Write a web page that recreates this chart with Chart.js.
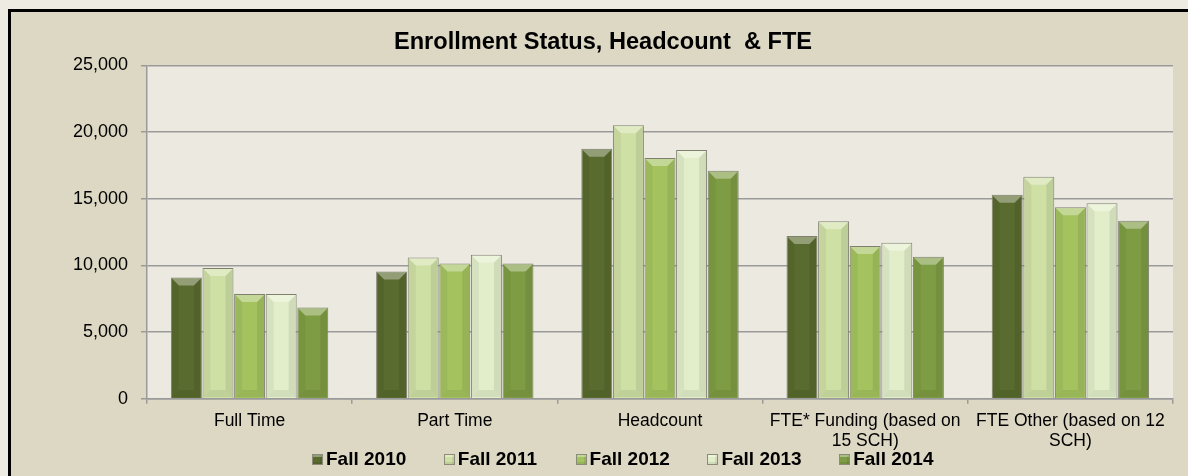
<!DOCTYPE html>
<html>
<head>
<meta charset="utf-8">
<script src="https://cdn.jsdelivr.net/npm/chart.js@4"></script>
<style>
  html, body { margin: 0; padding: 0; background: #EEECE2; overflow: hidden; width: 1188px; height: 476px; }
  #frame { position: absolute; left: 8px; top: 9px; width: 1200px; height: 500px; border: 3px solid #000; background: #DDD8C4; box-sizing: border-box; }
  #wrap { position: absolute; left: 11px; top: 12px; width: 1184px; height: 464px; }
  #legend { position: absolute; left: 312px; top: 448px; height: 22px; display: flex; font-family: "Liberation Sans", Arial, sans-serif; font-weight: bold; font-size: 19px; line-height: 22px; color: #000; }
  .item { width: 131.8px; display: flex; align-items: center; white-space: nowrap; }
  .sw { width: 11px; height: 11px; margin-right: 3px; box-sizing: border-box; border: 1px solid #8A8B78; box-shadow: inset 0 2px 0 rgba(255,255,255,0.35), inset -2px 0 0 rgba(0,0,0,0.08), inset 0 -2px 0 rgba(0,0,0,0.08); }
</style>
</head>
<body>
<div id="frame"></div>
<div id="wrap"><canvas id="c"></canvas></div>
<div id="legend"></div>
<script>
const categories = ["Full Time", "Part Time", "Headcount", ["FTE* Funding (based on", "15 SCH)"], ["FTE Other (based on 12", "SCH)"]];
const seriesNames = ["Fall 2010", "Fall 2011", "Fall 2012", "Fall 2013", "Fall 2014"];
const fall2010 = [9100, 9550, 18750, 12200, 15300];
const fall2011 = [9800, 10600, 20500, 13300, 16650];
const fall2012 = [7850, 10150, 18050, 11450, 14350];
const fall2013 = [7850, 10800, 18650, 11700, 14650];
const fall2014 = [6850, 10150, 17100, 10650, 13350];
const yTicks = [0, 5000, 10000, 15000, 20000, 25000];
const seriesColors = ["#596B2E", "#CFE0A5", "#A4C35F", "#E2EECA", "#7E9C43"];

const seriesValues = [fall2010, fall2011, fall2012, fall2013, fall2014];

const plotBg = {
  id: 'plotBg',
  beforeDraw(chart) {
    const { ctx, chartArea: a } = chart;
    ctx.save();
    ctx.fillStyle = '#ECEAE0';
    ctx.fillRect(a.left, a.top, a.right - a.left, a.bottom - a.top);
    ctx.restore();
  }
};

const bevel = {
  id: 'bevel',
  afterDatasetsDraw(chart) {
    const ctx = chart.ctx;
    chart.data.datasets.forEach((ds, i) => {
      const meta = chart.getDatasetMeta(i);
      meta.data.forEach(bar => {
        const p = bar.getProps(['x', 'y', 'base', 'width'], true);
        const l = p.x - p.width / 2, r = p.x + p.width / 2, t = p.y, b = p.base;
        const bv = Math.min(8, (b - t) / 3);
        ctx.save();
        ctx.fillStyle = 'rgba(255,255,255,0.35)';
        ctx.beginPath();
        ctx.moveTo(l + 1, t + 1); ctx.lineTo(r - 1, t + 1); ctx.lineTo(r - bv, t + bv); ctx.lineTo(l + bv, t + bv); ctx.closePath();
        ctx.fill();
        ctx.fillStyle = 'rgba(0,0,0,0.08)';
        ctx.beginPath();
        ctx.moveTo(r - 1, t + 1); ctx.lineTo(r - 1, b - 1); ctx.lineTo(r - bv, b - bv); ctx.lineTo(r - bv, t + bv); ctx.closePath();
        ctx.fill();
        ctx.fillStyle = 'rgba(0,0,0,0.05)';
        ctx.beginPath();
        ctx.moveTo(l + 1, t + 1); ctx.lineTo(l + 1, b - 1); ctx.lineTo(l + bv, b - bv); ctx.lineTo(l + bv, t + bv); ctx.closePath();
        ctx.fill();
        ctx.fillStyle = 'rgba(0,0,0,0.07)';
        ctx.beginPath();
        ctx.moveTo(l + 1, b - 1); ctx.lineTo(r - 1, b - 1); ctx.lineTo(r - bv, b - bv); ctx.lineTo(l + bv, b - bv); ctx.closePath();
        ctx.fill();
        ctx.restore();
      });
    });
  }
};

const datasets = seriesNames.map((n, i) => ({
  label: n,
  data: seriesValues[i],
  backgroundColor: seriesColors[i],
  borderColor: '#7F8070',
  borderWidth: 1,
  categoryPercentage: 0.77,
  barPercentage: 0.98
}));

Chart.defaults.font.family = '"Liberation Sans", Arial, sans-serif';
Chart.defaults.color = '#000';

const chart = new Chart(document.getElementById('c'), {
  type: 'bar',
  data: { labels: categories, datasets },
  options: {
    responsive: true,
    maintainAspectRatio: false,
    animation: false,
    layout: { padding: { left: 22, right: 22, top: 0, bottom: 18 } },
    plugins: {
      title: {
        display: true,
        text: 'Enrollment Status, Headcount  & FTE',
        font: { size: 23.6, weight: 'bold' },
        color: '#000',
        padding: { top: 16, bottom: 9 }
      },
      legend: { display: false },
      tooltip: { enabled: false }
    },
    scales: {
      x: {
        grid: { display: true, drawOnChartArea: false, drawTicks: true, tickLength: 5, color: '#9A9A9A', lineWidth: 1.5, offset: true },
        border: { color: '#9A9A9A', width: 1.5 },
        ticks: { font: { size: 17.5, lineHeight: 1.15 }, color: '#000', maxRotation: 0, autoSkip: false, padding: 7 }
      },
      y: {
        min: 0, max: 25000,
        afterBuildTicks(scale) { scale.ticks = yTicks.map(v => ({ value: v })); },
        afterFit(scale) { scale.width = 114; },
        grid: { color: '#9A9A9A', lineWidth: 1.5, tickLength: 6 },
        border: { color: '#9A9A9A', width: 1.5 },
        ticks: {
          font: { size: 18 }, color: '#000', padding: 13,
          callback: v => v.toLocaleString('en-US')
        }
      }
    }
  },
  plugins: [plotBg, bevel]
});

// HTML legend built from the chart's datasets
const legendEl = document.getElementById('legend');
chart.data.datasets.forEach(ds => {
  const item = document.createElement('div');
  item.className = 'item';
  const sw = document.createElement('span');
  sw.className = 'sw';
  sw.style.background = ds.backgroundColor;
  const tx = document.createElement('span');
  tx.textContent = ds.label;
  item.appendChild(sw);
  item.appendChild(tx);
  legendEl.appendChild(item);
});
</script>
</body>
</html>
